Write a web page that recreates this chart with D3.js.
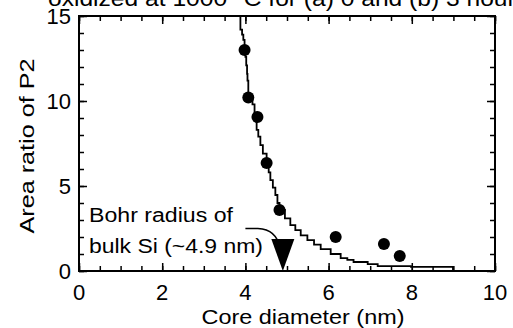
<!DOCTYPE html>
<html>
<head>
<meta charset="utf-8">
<script src="https://cdn.jsdelivr.net/npm/d3@7"></script>
<style>
  body { margin: 0; background: #fff; }
  svg { display: block; font-family: Arial, "Liberation Sans", sans-serif; }
</style>
</head>
<body>
<svg id="chart" width="513" height="328"></svg>
<script>
// dati
const dotX = [3.98, 4.07, 4.29, 4.51, 4.82, 6.17, 7.33, 7.71];
const dotY = [13.0, 10.2, 9.06, 6.35, 3.59, 2.0, 1.59, 0.88];

const curveX = [3.88, 3.88, 3.92, 3.95, 3.98, 4.0, 4.02, 4.04, 4.05, 4.07, 4.12, 4.17, 4.22, 4.25, 4.27, 4.31, 4.36, 4.42, 4.51, 4.56, 4.6, 4.66, 4.72, 4.77, 4.82, 4.95, 5.08, 5.2, 5.33, 5.49, 5.65, 5.81, 6.05, 6.29, 6.45, 6.6, 6.94, 7.18, 7.98, 8.99];
const curveY = [15.0, 14.2, 13.9, 13.6, 13.0, 12.6, 12.1, 11.6, 11.2, 10.2, 10.0, 9.8, 9.2, 8.8, 8.3, 7.9, 7.4, 6.9, 6.35, 5.8, 5.35, 4.9, 4.47, 4.0, 3.59, 3.1, 2.7, 2.4, 2.1, 1.82, 1.55, 1.29, 1.0, 0.76, 0.65, 0.53, 0.41, 0.29, 0.24, 0.05];

const xTicks = [0, 2, 4, 6, 8, 10];
const yTicks = [0, 5, 10, 15];
const bohrX = 4.9;

const titleText = "oxidized at 1000 °C for (a) 0 and (b) 3 hours";
const xLabel = "Core diameter (nm)";
const yLabel = "Area ratio of P2";
const noteLines = ["Bohr radius of", "bulk Si (~4.9 nm)"];

// impostazioni base
const margin = { top: 16, right: 18, bottom: 57, left: 79 };
const width = 513 - margin.left - margin.right;
const height = 328 - margin.top - margin.bottom;

const svg = d3.select("#chart");
const g = svg.append("g").attr("transform", `translate(${margin.left},${margin.top})`);

const x = d3.scaleLinear().domain([0, 10]).range([0, width]);
const y = d3.scaleLinear().domain([0, 15]).range([height, 0]);

// titolo tagliato in alto
svg.append("text")
  .attr("x", 48).attr("y", 6)
  .attr("font-size", 22)
  .attr("textLength", 480).attr("lengthAdjust", "spacingAndGlyphs")
  .text(titleText);

// assi con tacche interne
const minorX = d3.range(0, 10.01, 0.5);
const minorY = d3.range(0, 15.01, 1);

function tickAxis(axisFn, scale, vals, len, tf) {
  const a = g.append("g").attr("transform", tf)
    .call(axisFn(scale).tickValues(vals).tickSize(-len).tickFormat(""));
  a.select(".domain").remove();
  a.selectAll("line").attr("stroke", "#000").attr("stroke-width", 1.5);
}
tickAxis(d3.axisBottom, x, minorX, 5, `translate(0,${height})`);
tickAxis(d3.axisBottom, x, xTicks, 8, `translate(0,${height})`);
tickAxis(d3.axisTop, x, minorX, 5, "translate(0,0)");
tickAxis(d3.axisTop, x, xTicks, 8, "translate(0,0)");
tickAxis(d3.axisLeft, y, minorY, 5, "translate(0,0)");
tickAxis(d3.axisLeft, y, yTicks, 8, "translate(0,0)");
tickAxis(d3.axisRight, y, minorY, 5, `translate(${width},0)`);
tickAxis(d3.axisRight, y, yTicks, 8, `translate(${width},0)`);

// cornice
g.append("rect")
  .attr("width", width).attr("height", height)
  .attr("fill", "none").attr("stroke", "#000").attr("stroke-width", 2);

// etichette tacche
g.selectAll(".xl").data(xTicks).join("text")
  .attr("x", d => x(d)).attr("y", height + 29)
  .attr("text-anchor", "middle").attr("font-size", 22)
  .text(d => d);
g.selectAll(".yl").data(yTicks).join("text")
  .attr("x", -8).attr("y", d => y(d) + 8)
  .attr("text-anchor", "end").attr("font-size", 22)
  .text(d => d);

// titoli assi
svg.append("text")
  .attr("x", 303).attr("y", 324)
  .attr("text-anchor", "middle").attr("font-size", 21)
  .attr("textLength", 203).attr("lengthAdjust", "spacingAndGlyphs")
  .text(xLabel);
svg.append("text")
  .attr("transform", "translate(34,146) rotate(-90)")
  .attr("text-anchor", "middle").attr("font-size", 21)
  .attr("textLength", 175).attr("lengthAdjust", "spacingAndGlyphs")
  .text(yLabel);

// curva
const pts = curveX.map((d, i) => [d, curveY[i]]);
g.append("path")
  .datum(pts)
  .attr("fill", "none").attr("stroke", "#000").attr("stroke-width", 1.8)
  .attr("d", d3.line().x(d => x(d[0])).y(d => y(d[1])).curve(d3.curveStepAfter));

// punti
g.selectAll(".dot").data(dotX).join("circle")
  .attr("cx", d => x(d)).attr("cy", (d, i) => y(dotY[i]))
  .attr("r", 6).attr("fill", "#000");

// triangolo raggio di Bohr
const tx = x(bohrX), ty = y(0);
g.append("path")
  .attr("d", `M${tx - 11.5},${ty - 32}L${tx + 11.5},${ty - 32}L${tx},${ty}Z`)
  .attr("fill", "#000");

// freccia annotazione
g.append("path")
  .attr("d", `M${x(4.0)},${y(2.5)}L${x(4.3)},${y(2.5)}Q${x(4.75)},${y(2.45)} ${x(4.83)},${y(1.35)}`)
  .attr("fill", "none").attr("stroke", "#000").attr("stroke-width", 1.5);

// testo annotazione
const note = svg.append("text").attr("font-size", 20);
note.append("tspan").attr("x", 89).attr("y", 222)
  .attr("textLength", 144).attr("lengthAdjust", "spacingAndGlyphs").text(noteLines[0]);
note.append("tspan").attr("x", 89).attr("y", 253)
  .attr("textLength", 174).attr("lengthAdjust", "spacingAndGlyphs").text(noteLines[1]);
</script>
</body>
</html>
